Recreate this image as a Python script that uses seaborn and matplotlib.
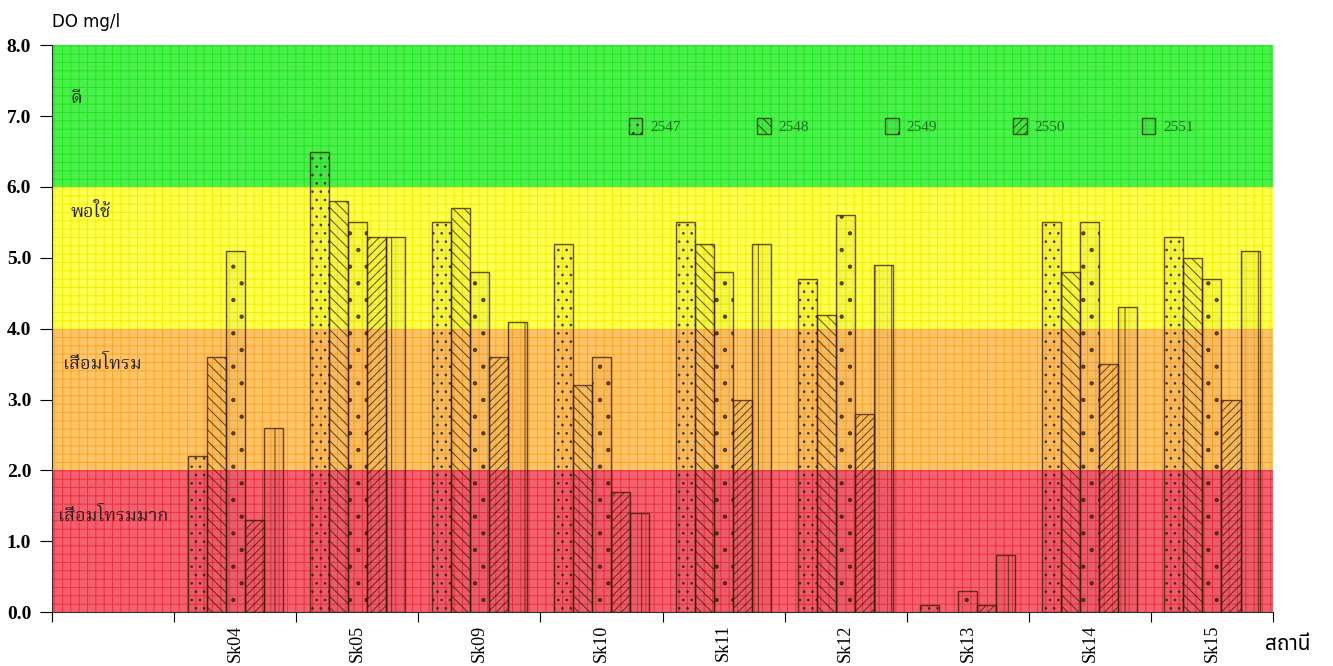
import numpy as np
import pandas as pd
import seaborn as sns
import matplotlib.pyplot as plt
from matplotlib.ticker import FixedLocator, NullFormatter

# stations (first slot has no data / no label in the original)
stations = ["", "Sk04", "Sk05", "Sk09", "Sk10", "Sk11", "Sk12", "Sk13", "Sk14", "Sk15"]
years = ["2547", "2548", "2549", "2550", "2551"]

do_2547 = [np.nan, 2.2, 6.5, 5.5, 5.2, 5.5, 4.7, 0.1, 5.5, 5.3]
do_2548 = [np.nan, 3.6, 5.8, 5.7, 3.2, 5.2, 4.2, np.nan, 4.8, 5.0]
do_2549 = [np.nan, 5.1, 5.5, 4.8, 3.6, 4.8, 5.6, 0.3, 5.5, 4.7]
do_2550 = [np.nan, 1.3, 5.3, 3.6, 1.7, 3.0, 2.8, 0.1, 3.5, 3.0]
do_2551 = [np.nan, 2.6, 5.3, 4.1, 1.4, 5.2, 4.9, 0.8, 4.3, 5.1]

# quality bands
band_lo = [0, 2, 4, 6]
band_hi = [2, 4, 6, 8]
band_names = ["เสื่อมโทรมมาก", "เสื่อมโทรม", "พอใช้", "ดี"]
band_colors = ["#f4606e", "#ffc466", "#ffff50", "#4cf04c"]
band_grid = ["#ec3040", "#ffa52a", "#f0f000", "#20e620"]
band_label_y = [1.35, 3.5, 5.65, 7.25]
band_label_x = [0.005, 0.009, 0.015, 0.015]

hatches = ["..", "\\\\\\", ".", "////", "|"]

rows = []
for yr, vals in zip(years, [do_2547, do_2548, do_2549, do_2550, do_2551]):
    for st, v in zip(stations, vals):
        rows.append({"station": st, "year": yr, "do": v})
df = pd.DataFrame(rows)

plt.rcParams["hatch.linewidth"] = 0.7
thai = ["Noto Serif Thai", "Norasi", "Noto Sans Thai", "Loma", "Garuda", "DejaVu Sans"]
thai_sans = ["Noto Sans Thai", "Loma", "Garuda", "DejaVu Sans"]
serif = ["Liberation Serif", "DejaVu Serif"]

fig = plt.figure(figsize=(13.33, 6.66), dpi=100)
ax = fig.add_axes([0.039, 0.081, 0.916, 0.851])

for lo, hi, c, gc in zip(band_lo, band_hi, band_colors, band_grid):
    ax.axhspan(lo, hi, facecolor=c, edgecolor=gc, hatch="++", linewidth=0, zorder=0)

sns.barplot(data=df, x="station", y="do", hue="year", order=stations,
            hue_order=years, width=0.78, gap=0, errorbar=None, legend=False,
            ax=ax, zorder=2)

for cont, h in zip(ax.containers, hatches):
    for p in cont.patches:
        p.set_facecolor((0, 0, 0, 0.04))
        p.set_edgecolor((0.2, 0.1, 0, 0.75))
        p.set_hatch(h)
        p.set_linewidth(1.0)

leg = ax.legend(ax.containers, years, loc="center left", bbox_to_anchor=(0.461, 0.857),
                ncol=5, frameon=False, columnspacing=5.0, handlelength=0.9,
                handleheight=1.2, handletextpad=0.5,
                prop={"family": serif, "size": 11})
for t in leg.get_texts():
    t.set_color("#207020")

for name, x, y in zip(band_names, band_label_x, band_label_y):
    ax.text(x, y, name, transform=ax.get_yaxis_transform(), family=thai,
            fontsize=13, color="#202020", va="center", ha="left")

ax.set_xlim(-0.5, len(stations) - 0.5)
ax.set_ylim(0, 8)
ax.set_yticks(np.arange(0, 8.1, 1.0))
ax.set_yticklabels([f"{v:.1f}" for v in np.arange(0, 8.1, 1.0)],
                   family=serif, fontsize=14, fontweight="bold")

ax.xaxis.set_major_locator(FixedLocator(np.arange(-0.5, len(stations), 1.0)))
ax.xaxis.set_major_formatter(NullFormatter())
ax.set_xticks(np.arange(len(stations)), minor=True)
ax.set_xticklabels(stations, minor=True, rotation=90, family=serif, fontsize=13)
ax.tick_params(axis="x", which="minor", length=0, pad=9)
ax.tick_params(axis="x", which="major", length=7, direction="out")
ax.tick_params(axis="y", length=9, direction="out", pad=6)

ax.set_xlabel("")
ax.set_ylabel("")
for s in ["top", "right"]:
    ax.spines[s].set_visible(False)
ax.spines["left"].set_color("#303030")
ax.spines["bottom"].set_color("#303030")

fig.text(0.039, 0.967, "DO mg/l", family=["DejaVu Sans"], fontsize=12, va="center")
fig.text(0.949, 0.033, "สถานี", family=thai_sans, fontsize=15, va="center", ha="left")

fig.savefig("out.png", dpi=100)
